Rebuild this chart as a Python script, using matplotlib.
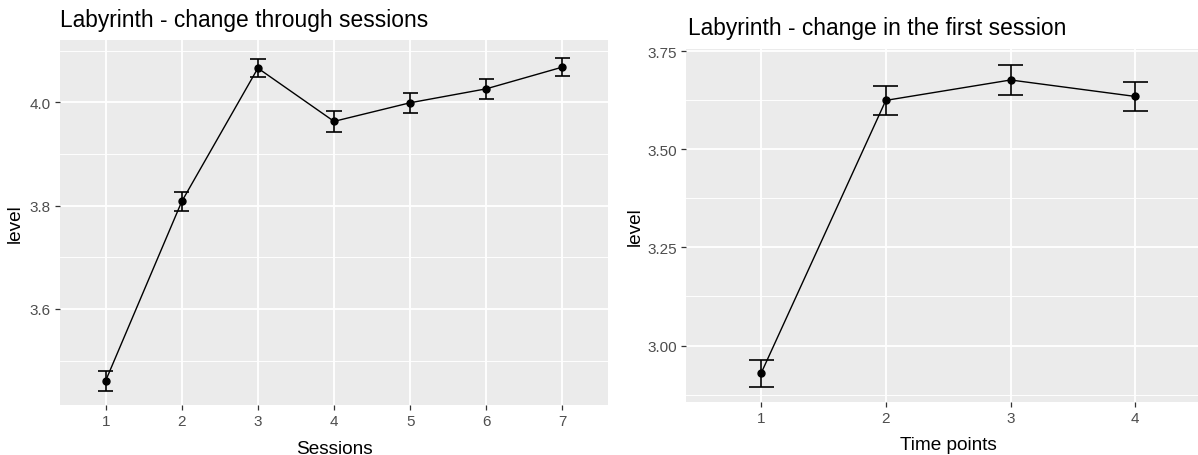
import matplotlib
matplotlib.use("Agg")
import matplotlib.pyplot as plt
from matplotlib.ticker import FixedLocator

# Mean level per session with standard-error half widths
sessions = ["1", "2", "3", "4", "5", "6", "7"]
session_level = [3.461, 3.808, 4.066, 3.963, 3.999, 4.026, 4.068]
session_se = [0.019, 0.019, 0.018, 0.020, 0.019, 0.019, 0.018]

# Mean level per time point within the first session
time_points = ["1", "2", "3", "4"]
first_level = [2.929, 3.625, 3.677, 3.635]
first_se = [0.035, 0.036, 0.039, 0.037]

W, H, DPI = 1198, 456, 100
PANEL_BG = "#EBEBEB"
TICK_TXT = "#4D4D4D"
TICK_LINE = "#333333"

plt.rcParams["font.family"] = ["Liberation Sans", "DejaVu Sans"]

fig = plt.figure(figsize=(W / DPI, H / DPI), dpi=DPI)
fig.patch.set_facecolor("white")


def px_axes(x0, y0, x1, y1):
    """Create axes from pixel box (left, top, right, bottom)."""
    return fig.add_axes([x0 / W, 1 - y1 / H, (x1 - x0) / W, (y1 - y0) / H])


def gg_panel(ax, cats, vals, errs, ylim, major, minor):
    xs = list(range(1, len(cats) + 1))
    ax.set_facecolor(PANEL_BG)
    for s in ax.spines.values():
        s.set_visible(False)
    ax.set_xlim(0.4, len(cats) + 0.6)
    ax.set_ylim(*ylim)
    ax.yaxis.set_major_locator(FixedLocator(major))
    ax.yaxis.set_minor_locator(FixedLocator(minor))
    ax.set_xticks(xs)
    ax.set_xticklabels(cats)
    ax.grid(True, which="major", color="white", linewidth=1.3)
    ax.grid(True, which="minor", axis="y", color="white", linewidth=0.65)
    ax.set_axisbelow(True)
    ax.tick_params(which="major", length=3.6, width=0.9, color=TICK_LINE,
                   labelcolor=TICK_TXT, labelsize=11, pad=3)
    ax.tick_params(which="minor", length=0)
    ax.plot(xs, vals, color="black", linewidth=1.0, zorder=3)
    ax.errorbar(xs, vals, yerr=errs, fmt="none", ecolor="black",
                elinewidth=1.2, capthick=1.2, zorder=3,
                capsize=0)
    # horizontal caps spanning 0.2 category units
    for x, v, e in zip(xs, vals, errs):
        ax.hlines([v - e, v + e], x - 0.1, x + 0.1, color="black",
                  linewidth=1.2, zorder=3)
    ax.plot(xs, vals, "o", color="black", markersize=5, zorder=4)


# Left panel: change through sessions
ax1 = px_axes(60, 41, 608, 406)
gg_panel(ax1, sessions, session_level, session_se,
         (3.414, 4.1205), [3.6, 3.8, 4.0], [3.5, 3.7, 3.9, 4.1])
ax1.set_yticklabels(["3.6", "3.8", "4.0"])

# Right panel: change in the first session
ax2 = px_axes(686.2, 50, 1210.2, 403)
gg_panel(ax2, time_points, first_level, first_se,
         (2.856, 3.756), [3.00, 3.25, 3.50, 3.75],
         [2.875, 3.125, 3.375, 3.625])
ax2.set_yticklabels(["3.00", "3.25", "3.50", "3.75"])

# Titles and axis titles
fig.text(60 / W, 1 - 26.7 / H, "Labyrinth - change through sessions",
         fontsize=16.4, color="black", ha="left", va="baseline")
fig.text(688 / W, 1 - 35 / H, "Labyrinth - change in the first session",
         fontsize=16.4, color="black", ha="left", va="baseline")
fig.text(334 / W, 1 - 454 / H, "Sessions", fontsize=13.7, color="black",
         ha="center", va="baseline")
fig.text(948 / W, 1 - 450 / H, "Time points", fontsize=13.7, color="black",
         ha="center", va="baseline")
fig.text(15 / W, 1 - 223.5 / H, "level", fontsize=13.7, color="black",
         ha="center", va="center", rotation=90)
fig.text(635 / W, 1 - 226.5 / H, "level", fontsize=13.7, color="black",
         ha="center", va="center", rotation=90)

fig.savefig("out.png", dpi=DPI, facecolor="white")
